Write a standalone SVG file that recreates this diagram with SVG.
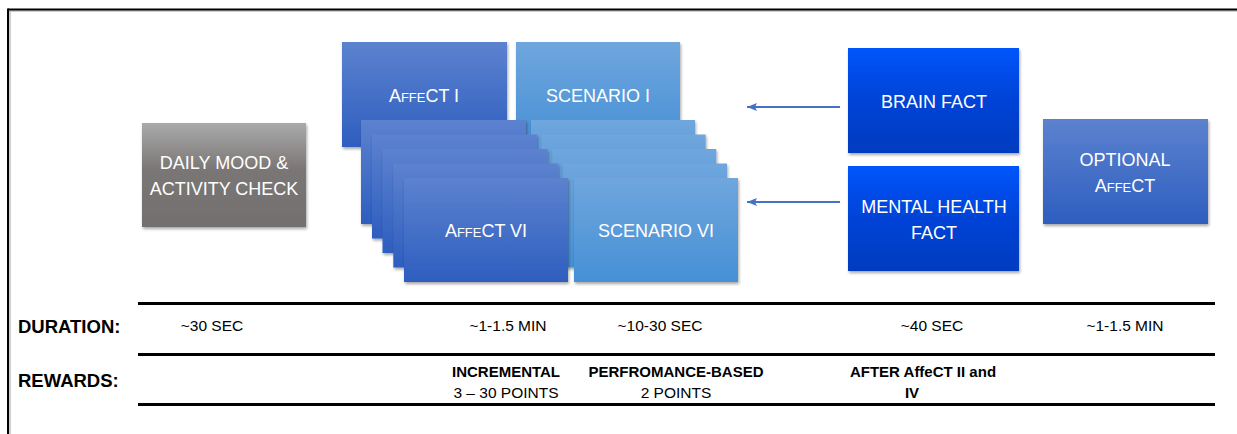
<svg xmlns="http://www.w3.org/2000/svg" width="1237" height="434" viewBox="0 0 1237 434">
<defs>
<linearGradient id="gGray" x1="0" y1="0" x2="0" y2="1">
<stop offset="0" stop-color="#aaaaaa"/><stop offset="0.45" stop-color="#7a7675"/><stop offset="1" stop-color="#72706f"/>
</linearGradient>
<linearGradient id="gAff" x1="0" y1="0" x2="0" y2="1">
<stop offset="0" stop-color="#5c82cf"/><stop offset="1" stop-color="#2e5ebf"/>
</linearGradient>
<linearGradient id="gSc" x1="0" y1="0" x2="0" y2="1">
<stop offset="0" stop-color="#6fa6dd"/><stop offset="1" stop-color="#4690d6"/>
</linearGradient>
<linearGradient id="gFact" x1="0" y1="0" x2="0" y2="1">
<stop offset="0" stop-color="#0055fb"/><stop offset="0.5" stop-color="#0043d6"/><stop offset="1" stop-color="#003bbf"/>
</linearGradient>
<filter id="sh" x="-10%" y="-10%" width="125%" height="130%">
<feDropShadow dx="1" dy="2" stdDeviation="1.5" flood-color="#000" flood-opacity="0.35"/>
</filter>
<marker id="ah" viewBox="0 0 10 8" refX="10" refY="4" markerUnits="userSpaceOnUse" markerWidth="10" markerHeight="8" orient="auto">
<path d="M0,0 L10,4 L0,8 L2,4 Z" fill="#4472c4"/>
</marker>
</defs>
<style>
.nt{font-family:"Liberation Sans",Arial,sans-serif;font-size:18px;fill:#ffffff;text-anchor:middle;}
.sc{font-variant:small-caps;}
.lbl{font-family:"Liberation Sans",Arial,sans-serif;font-size:18.5px;font-weight:bold;fill:#000;}
.cell{font-family:"Liberation Sans",Arial,sans-serif;font-size:15.5px;fill:#000;text-anchor:middle;}
.cellb{font-family:"Liberation Sans",Arial,sans-serif;font-size:15px;font-weight:bold;fill:#000;text-anchor:middle;}
.rule{stroke:#000;stroke-width:3;}
.aff{fill:url(#gAff);filter:url(#sh);}
.scn{fill:url(#gSc);filter:url(#sh);}
.fact{fill:url(#gFact);filter:url(#sh);}
.conn{stroke:#4472c4;stroke-width:2.2;fill:none;marker-end:url(#ah);}
</style>
<rect width="1237" height="434" fill="#ffffff"/>
<!-- frame -->
<line x1="8" y1="11" x2="1237" y2="11" stroke="#a0a0a0" stroke-width="1"/>
<line x1="10" y1="11" x2="10" y2="434" stroke="#a0a0a0" stroke-width="1"/>
<line x1="8" y1="9.5" x2="1237" y2="9.5" stroke="#000" stroke-width="2"/>
<line x1="8" y1="8.5" x2="8" y2="434" stroke="#000" stroke-width="2"/>

<g id="daily">
<rect x="142" y="123" width="164" height="104" fill="url(#gGray)" filter="url(#sh)"/>
<text class="nt" x="224" y="169">DAILY MOOD &amp;</text>
<text class="nt" x="224" y="195">ACTIVITY CHECK</text>
</g>

<g id="affect1">
<rect class="aff" x="342" y="42" width="165" height="105"/>
<text class="nt sc" x="424" y="102">AffeCT I</text>
</g>
<g id="scenario1">
<rect class="scn" x="516" y="42" width="164" height="105"/>
<text class="nt" x="598" y="102">SCENARIO I</text>
</g>

<g id="stack">
<rect class="aff" x="361" y="120" width="165" height="104"/>
<rect class="scn" x="531" y="120" width="164" height="104"/>
<rect class="aff" x="372" y="134.5" width="165" height="104"/>
<rect class="scn" x="541.7" y="134.5" width="164" height="104"/>
<rect class="aff" x="382.5" y="149" width="165" height="104"/>
<rect class="scn" x="552.3" y="149" width="164" height="104"/>
<rect class="aff" x="393.3" y="163.5" width="165" height="104"/>
<rect class="scn" x="563" y="163.5" width="164" height="104"/>
</g>
<g id="affect6">
<rect class="aff" x="404" y="178" width="164" height="104"/>
<text class="nt sc" x="486" y="237">AffeCT VI</text>
</g>
<g id="scenario6">
<rect class="scn" x="574" y="178" width="164" height="104"/>
<text class="nt" x="656" y="237">SCENARIO VI</text>
</g>

<g id="brainfact">
<rect class="fact" x="848" y="48" width="171" height="105"/>
<text class="nt" x="934" y="108">BRAIN FACT</text>
</g>
<g id="mentalfact">
<rect class="fact" x="848" y="166" width="171" height="105"/>
<text class="nt" x="934" y="213">MENTAL HEALTH</text>
<text class="nt" x="934" y="239">FACT</text>
</g>
<g id="optional">
<rect class="aff" x="1043" y="119" width="165" height="105"/>
<text class="nt" x="1125" y="166">OPTIONAL</text>
<text class="nt sc" x="1125" y="192">AffeCT</text>
</g>

<g id="connectors">
<line class="conn" x1="840" y1="107" x2="747" y2="107"/>
<line class="conn" x1="840" y1="202" x2="747" y2="202"/>
</g>

<g id="table">
<line class="rule" x1="138" y1="303.5" x2="1215" y2="303.5"/>
<line class="rule" x1="138" y1="354.5" x2="1215" y2="354.5"/>
<line class="rule" x1="138" y1="404.5" x2="1215" y2="404.5"/>
<text class="lbl" x="18" y="333">DURATION:</text>
<text class="lbl" x="18" y="387">REWARDS:</text>
<text class="cell" x="212" y="331">~30 SEC</text>
<text class="cell" x="508" y="331">~1-1.5 MIN</text>
<text class="cell" x="660" y="331">~10-30 SEC</text>
<text class="cell" x="932" y="331">~40 SEC</text>
<text class="cell" x="1125" y="331">~1-1.5 MIN</text>
<text class="cellb" x="506" y="377">INCREMENTAL</text>
<text class="cell" x="506" y="398">3 – 30 POINTS</text>
<text class="cellb" x="676" y="377">PERFROMANCE-BASED</text>
<text class="cell" x="676" y="398">2 POINTS</text>
<text class="cellb" x="923" y="377">AFTER AffeCT II and</text>
<text class="cellb" x="912" y="398">IV</text>
</g>
</svg>
